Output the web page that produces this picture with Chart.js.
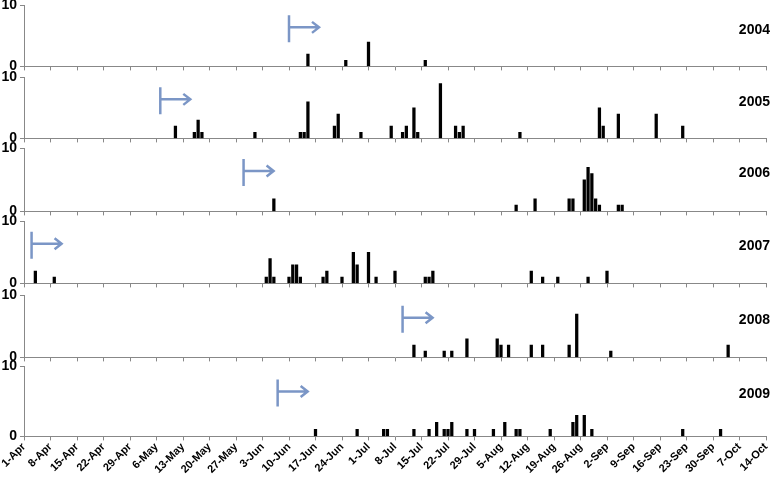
<html>
<head>
<meta charset="UTF-8" />
<script src="https://cdn.jsdelivr.net/npm/chart.js"></script>
<style>
  body { margin: 0; width: 774px; height: 482px; overflow: hidden; background: #fff; position: relative; }
  .panel { position: absolute; left: 0; width: 774px; height: 90px; }
</style>
</head>
<body>
<script>
// x axis tick labels, one per week
const tickLabels = ["1-Apr", "8-Apr", "15-Apr", "22-Apr", "29-Apr", "6-May", "13-May", "20-May",
  "27-May", "3-Jun", "10-Jun", "17-Jun", "24-Jun", "1-Jul", "8-Jul", "15-Jul", "22-Jul", "29-Jul",
  "5-Aug", "12-Aug", "19-Aug", "26-Aug", "2-Sep", "9-Sep", "16-Sep", "23-Sep", "30-Sep", "7-Oct", "14-Oct"];

const years = ["2004", "2005", "2006", "2007", "2008", "2009"];

const dates2004 = ["15-Jun", "25-Jun", "1-Jul", "16-Jul"];
const counts2004 = [2, 1, 4, 1];

const dates2005 = ["11-May", "16-May", "17-May", "18-May", "1-Jun", "13-Jun", "14-Jun", "15-Jun",
  "22-Jun", "23-Jun", "29-Jun", "7-Jul", "10-Jul", "11-Jul", "13-Jul", "14-Jul", "20-Jul", "24-Jul",
  "25-Jul", "26-Jul", "10-Aug", "31-Aug", "1-Sep", "5-Sep", "15-Sep", "22-Sep"];
const counts2005 = [2, 1, 3, 1, 1, 1, 1, 6, 2, 4, 1, 2, 1, 2, 5, 1, 9, 2, 1, 2, 1, 5, 2, 4, 4, 2];

const dates2006 = ["6-Jun", "9-Aug", "14-Aug", "23-Aug", "24-Aug", "27-Aug", "28-Aug", "29-Aug",
  "30-Aug", "31-Aug", "5-Sep", "6-Sep"];
const counts2006 = [2, 1, 2, 2, 2, 5, 7, 6, 2, 1, 1, 1];

const dates2007 = ["4-Apr", "9-Apr", "4-Jun", "5-Jun", "6-Jun", "10-Jun", "11-Jun", "12-Jun", "13-Jun",
  "19-Jun", "20-Jun", "24-Jun", "27-Jun", "28-Jun", "1-Jul", "3-Jul", "8-Jul", "16-Jul", "17-Jul",
  "18-Jul", "13-Aug", "16-Aug", "20-Aug", "28-Aug", "2-Sep"];
const counts2007 = [2, 1, 1, 4, 1, 1, 3, 3, 1, 1, 2, 1, 5, 3, 5, 1, 2, 1, 1, 2, 2, 1, 1, 1, 2];

const dates2008 = ["13-Jul", "16-Jul", "21-Jul", "23-Jul", "27-Jul", "4-Aug", "5-Aug", "7-Aug",
  "13-Aug", "16-Aug", "23-Aug", "25-Aug", "3-Sep", "4-Oct"];
const counts2008 = [2, 1, 1, 1, 3, 3, 2, 2, 2, 2, 2, 7, 1, 2];

const dates2009 = ["17-Jun", "28-Jun", "5-Jul", "6-Jul", "13-Jul", "17-Jul", "19-Jul", "21-Jul",
  "22-Jul", "23-Jul", "27-Jul", "29-Jul", "3-Aug", "6-Aug", "9-Aug", "10-Aug", "18-Aug", "24-Aug",
  "25-Aug", "27-Aug", "29-Aug", "22-Sep", "2-Oct"];
const counts2009 = [1, 1, 1, 1, 1, 1, 2, 1, 1, 2, 1, 1, 1, 2, 1, 1, 1, 2, 3, 3, 1, 1, 1];

// start of the season marker (blue arrow) per year
const arrowDates = ["10-Jun", "7-May", "29-May", "3-Apr", "10-Jul", "7-Jun"];

const allDates = [dates2004, dates2005, dates2006, dates2007, dates2008, dates2009];
const allCounts = [counts2004, counts2005, counts2006, counts2007, counts2008, counts2009];

// panel plot areas on the page (top = value 10, bottom = value 0)
const panelTops = [5, 77, 148, 221, 295, 366];
const panelBottoms = [66, 138, 211, 283, 357, 436];

const FONT = '"Liberation Sans", Arial, sans-serif';
const monthStart = { Apr: 0, May: 30, Jun: 61, Jul: 91, Aug: 122, Sep: 153, Oct: 183 };

function dayOf(label) {
  const [d, m] = label.split("-");
  return monthStart[m] + parseInt(d) - 1;
}

const markers = {
  id: "markers",
  afterDatasetsDraw(chart, args, opts) {
    const ctx = chart.ctx;
    const xs = chart.scales.x;
    const ys = chart.scales.y;
    ctx.save();
    ctx.font = "bold 14px " + FONT;
    ctx.fillStyle = "#000";
    ctx.textAlign = "right";
    ctx.textBaseline = "middle";
    ctx.fillText(opts.year, chart.width - 4, ys.getPixelForValue(6));

    const ax = xs.getPixelForValue(dayOf(opts.arrow));
    const ay = ys.getPixelForValue(6.4);
    ctx.strokeStyle = "#7b96c6";
    ctx.lineWidth = 2.5;
    ctx.beginPath();
    ctx.moveTo(ax, ay - 12);
    ctx.lineTo(ax, ay + 15);
    ctx.moveTo(ax, ay);
    ctx.lineTo(ax + 30, ay);
    ctx.moveTo(ax + 23, ay - 5.5);
    ctx.lineTo(ax + 30, ay);
    ctx.lineTo(ax + 23, ay + 5.5);
    ctx.stroke();
    ctx.restore();
  }
};

years.forEach((year, i) => {
  const last = i === years.length - 1;
  const wrap = document.createElement("div");
  wrap.className = "panel";
  const canvas = document.createElement("canvas");
  wrap.appendChild(canvas);
  document.body.appendChild(wrap);

  const points = allDates[i].map((d, k) => ({ x: dayOf(d), y: allCounts[i][k] }));

  const chart = new Chart(canvas, {
    type: "bar",
    data: {
      datasets: [{
        data: points,
        backgroundColor: "#000",
        barThickness: 2.6,
        borderWidth: 0
      }]
    },
    options: {
      responsive: true,
      maintainAspectRatio: false,
      animation: false,
      layout: { padding: { left: 0, right: 8, top: 0, bottom: 0 } },
      plugins: {
        legend: { display: false },
        tooltip: { enabled: false },
        markers: { year: year, arrow: arrowDates[i] }
      },
      scales: {
        x: {
          type: "linear",
          min: 0,
          max: 196,
          offset: false,
          border: { color: "#888", width: 1 },
          grid: { drawOnChartArea: false, offset: false, tickLength: 4, color: "#888" },
          ticks: {
            display: last,
            stepSize: 7,
            autoSkip: false,
            maxTicksLimit: 40,
            minRotation: 45,
            maxRotation: 45,
            padding: 0,
            color: "#000",
            font: { family: FONT, size: 11, weight: "bold" },
            callback: (v, idx) => tickLabels[idx]
          },
          afterFit: s => { s.paddingLeft = 0; s.paddingRight = 0; }
        },
        y: {
          min: 0,
          max: 10,
          border: { color: "#888", width: 1 },
          grid: { drawOnChartArea: false, tickLength: 4, color: "#888" },
          ticks: {
            stepSize: 10,
            padding: 3,
            color: "#000",
            font: { family: FONT, size: 14, weight: "bold" }
          },
          afterFit: s => { s.width = 24; }
        }
      }
    },
    plugins: [markers]
  });

  // place the canvas so that the plot area lands on the panel position
  const topOff = chart.chartArea.top;
  const botOff = chart.height - chart.chartArea.bottom;
  wrap.style.top = (panelTops[i] - topOff) + "px";
  wrap.style.height = (topOff + panelBottoms[i] - panelTops[i] + botOff) + "px";
  chart.resize();
});
</script>
</body>
</html>
